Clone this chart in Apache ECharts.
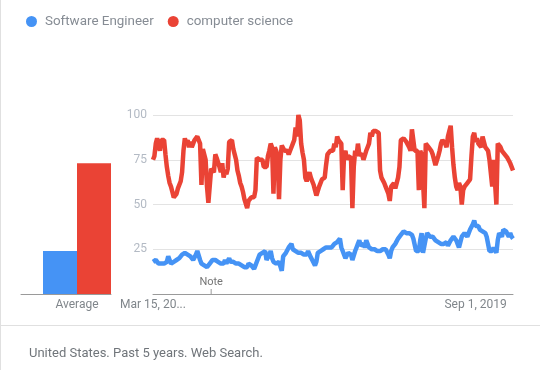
<!DOCTYPE html>
<html>
<head>
<meta charset="utf-8">
<script src="https://cdn.jsdelivr.net/npm/echarts@6/dist/echarts.min.js"></script>
<style>
html,body{margin:0;padding:0;background:#fff;}
#chart{width:540px;height:370px;}
</style>
</head>
<body>
<div id="chart"></div>
<script>
// ---- data ----
const seriesNames = ['Software Engineer', 'computer science'];
const seriesColors = ['#4593f5', '#ea4335'];
const startDate = '2015-03-15'; // first weekly category
const weekCount = 261;
const tickIndices = [0, 233];
const tickLabels = ['Mar 15, 20...', 'Sep 1, 2019'];
const noteIndex = 42;
const noteText = 'Note';
const yTicks = [0, 25, 50, 75, 100];
const averageCategory = ['Average'];
const averageSoftware = [24];
const averageCS = [73];

const softwareEngineer = [
  18, 18, 19, 18, 17, 18, 17, 16, 17, 16,
  18, 21, 19, 17, 16, 18, 18, 19, 20, 20,
  20, 22, 21, 23, 22, 22, 21, 21, 20, 19,
  19, 22, 24, 25, 19, 17, 18, 16, 16, 15,
  14, 17, 18, 19, 18, 19, 18, 18, 17, 17,
  18, 17, 19, 17, 18, 20, 18, 18, 18, 18,
  17, 18, 17, 17, 16, 16, 15, 14, 15, 17,
  17, 16, 15, 14, 16, 18, 19, 22, 22, 23,
  24, 24, 19, 19, 22, 24, 20, 18, 17, 17,
  17, 18, 18, 13, 21, 22, 23, 24, 26, 25,
  28, 25, 25, 24, 24, 23, 23, 23, 23, 22,
  23, 22, 24, 22, 21, 19, 18, 16, 18, 23,
  23, 24, 24, 25, 25, 26, 25, 26, 27, 26,
  27, 28, 28, 29, 30, 31, 26, 24, 22, 20,
  21, 23, 24, 22, 19, 20, 24, 26, 28, 30,
  27, 28, 28, 26, 30, 29, 26, 26, 25, 26,
  25, 25, 24, 25, 24, 25, 25, 24, 25, 25,
  22, 20, 24, 26, 27, 28, 29, 31, 32, 33,
  34, 35, 36, 34, 33, 34, 33, 33, 31, 30,
  24, 23, 24, 30, 34, 23, 23, 31, 34, 33,
  32, 33, 32, 31, 30, 30, 29, 28, 28, 29,
  28, 28, 29, 27, 26, 30, 31, 32, 31, 30,
  28, 26, 27, 32, 33, 34, 33, 32, 34, 36,
  36, 39, 41, 38, 37, 38, 36, 35, 35, 34,
  34, 32, 32, 24, 23, 24, 26, 26, 23, 30,
  34, 33, 32, 36, 37, 35, 34, 32, 34, 32,
  31
];

const computerScience = [
  75, 77, 84, 87, 88, 80, 86, 87, 86, 78,
  71, 66, 62, 60, 57, 54, 53, 56, 59, 60,
  63, 68, 80, 87, 84, 86, 82, 85, 82, 84,
  86, 87, 88, 89, 84, 61, 81, 80, 75, 60,
  51, 52, 70, 71, 68, 78, 76, 75, 71, 68,
  73, 65, 69, 67, 70, 85, 84, 86, 81, 78,
  75, 69, 66, 62, 60, 57, 53, 52, 48, 52,
  53, 54, 55, 54, 58, 76, 76, 75, 76, 75,
  71, 70, 71, 77, 80, 84, 82, 56, 82, 80,
  77, 53, 75, 83, 82, 80, 79, 80, 78, 80,
  82, 84, 86, 93, 88, 100, 97, 84, 79, 75,
  65, 63, 62, 68, 65, 63, 61, 58, 55, 54,
  60, 59, 64, 63, 65, 72, 78, 77, 80, 79,
  80, 84, 82, 88, 86, 85, 84, 58, 78, 80,
  75, 77, 77, 76, 48, 71, 80, 77, 84, 78,
  77, 78, 75, 75, 80, 82, 84, 90, 88, 91,
  90, 91, 90, 90, 69, 65, 64, 62, 60, 58,
  56, 52, 60, 60, 62, 59, 60, 65, 71, 86,
  86, 87, 86, 85, 84, 82, 80, 92, 91, 80,
  79, 80, 58, 80, 78, 79, 48, 84, 84, 82,
  82, 80, 78, 75, 72, 73, 77, 80, 84, 86,
  85, 84, 82, 88, 91, 94, 82, 72, 65, 60,
  58, 62, 60, 50, 58, 60, 60, 62, 63, 64,
  77, 88, 90, 85, 87, 84, 83, 82, 88, 89,
  82, 81, 80, 75, 76, 60, 75, 75, 50, 84,
  84, 82, 80, 80, 78, 77, 76, 75, 73, 71,
  69
];

// weekly category labels
const weeks = [];
{
  const d0 = new Date(startDate + 'T00:00:00Z');
  for (let i = 0; i < weekCount; i++) {
    const d = new Date(d0.getTime() + i * 7 * 86400000);
    weeks.push(d.toISOString().slice(0, 10));
  }
}

const FONT = 'Roboto, "Noto Sans", Arial, sans-serif';
const chart = echarts.init(document.getElementById('chart'), null, {renderer: 'canvas'});

const option = {
  animation: false,
  backgroundColor: '#ffffff',
  textStyle: {fontFamily: FONT},
  legend: {
    left: 21, top: 10,
    icon: 'circle', itemWidth: 11, itemHeight: 11, itemGap: 14,
    textStyle: {color: '#868c94', fontSize: 13.4, fontFamily: FONT, padding: [0, 0, 0, 3]},
    data: seriesNames
  },
  title: {
    text: 'United States. Past 5 years. Web Search.',
    left: 24, top: 342,
    textStyle: {color: '#70757a', fontSize: 13, fontWeight: 'normal', fontFamily: FONT}
  },
  grid: [
    {left: 153, top: 115, width: 360, height: 179},
    {left: 43, top: 115, width: 68, height: 179},
    {left: 21, top: 115, width: 90, height: 179}
  ],
  xAxis: [
    {
      gridIndex: 0, type: 'category', data: weeks, boundaryGap: false,
      axisLine: {lineStyle: {color: '#9a9a9a', width: 1}},
      axisTick: {show: false},
      axisLabel: {
        color: '#80868b', fontSize: 12, margin: 5, fontFamily: FONT,
        interval: (idx) => tickIndices.indexOf(idx) >= 0,
        formatter: (val, idx) => {
          const k = tickIndices.indexOf(idx);
          return k >= 0 ? tickLabels[k] : '';
        }
      }
    },
    {
      gridIndex: 1, type: 'category', data: averageCategory,
      axisLine: {show: false}, axisTick: {show: false},
      axisLabel: {color: '#80868b', fontSize: 12, margin: 5, fontFamily: FONT}
    },
    {
      gridIndex: 2, type: 'category', data: [''],
      axisLine: {lineStyle: {color: '#9a9a9a', width: 1}},
      axisTick: {show: false}, axisLabel: {show: false}
    }
  ],
  yAxis: [
    {
      gridIndex: 0, type: 'value', min: yTicks[0], max: yTicks[yTicks.length - 1], interval: 25,
      axisLine: {show: false}, axisTick: {show: false},
      axisLabel: {color: '#b3bac4', fontSize: 12, margin: 6, showMinLabel: false, fontFamily: FONT},
      splitLine: {lineStyle: {color: '#e3e3e3', width: 1}}
    },
    {gridIndex: 1, type: 'value', min: 0, max: 100, show: false},
    {gridIndex: 2, type: 'value', min: 0, max: 100, show: false}
  ],
  series: [
    {
      name: seriesNames[0], type: 'line', xAxisIndex: 0, yAxisIndex: 0,
      data: softwareEngineer, showSymbol: false, symbol: 'none',
      itemStyle: {color: seriesColors[0]},
      lineStyle: {color: seriesColors[0], width: 4.5, join: 'bevel'},
      markPoint: {
        symbol: 'rect', symbolSize: [1, 5], symbolOffset: [0, -2.5],
        itemStyle: {color: '#9a9a9a'},
        label: {show: true, position: 'top', distance: 1, formatter: noteText,
                color: '#757575', fontSize: 11, fontFamily: FONT},
        data: [{coord: [weeks[noteIndex], 0]}]
      }
    },
    {
      name: seriesNames[1], type: 'line', xAxisIndex: 0, yAxisIndex: 0,
      data: computerScience, showSymbol: false, symbol: 'none',
      itemStyle: {color: seriesColors[1]},
      lineStyle: {color: seriesColors[1], width: 4.5, join: 'bevel'}
    },
    {
      name: seriesNames[0], type: 'bar', xAxisIndex: 1, yAxisIndex: 1,
      data: averageSoftware, barWidth: 34, barGap: '0%',
      itemStyle: {color: seriesColors[0]}
    },
    {
      name: seriesNames[1], type: 'bar', xAxisIndex: 1, yAxisIndex: 1,
      data: averageCS, barWidth: 34, barGap: '0%',
      itemStyle: {color: seriesColors[1]}
    }
  ],
  graphic: [
    {type: 'line', shape: {x1: 0.5, y1: 0, x2: 0.5, y2: 370}, style: {stroke: '#e0e0e0', lineWidth: 1}, silent: true},
    {type: 'line', shape: {x1: 0, y1: 325.5, x2: 540, y2: 325.5}, style: {stroke: '#e0e0e0', lineWidth: 1}, silent: true}
  ]
};
chart.setOption(option);
</script>
</body>
</html>
